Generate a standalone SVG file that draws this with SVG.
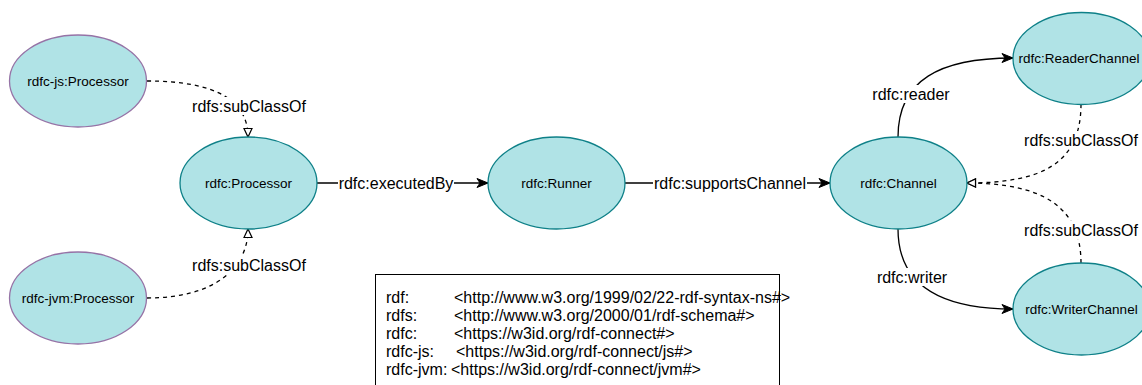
<svg xmlns="http://www.w3.org/2000/svg" width="1142" height="385" viewBox="0 0 1142 385">
<style>
.node{fill:#b0e3e6;stroke:#0e8088;stroke-width:1.3}
.ext{fill:#b0e3e6;stroke:#9673a6;stroke-width:1.3}
.nt{font-family:"Liberation Sans",Arial,sans-serif;font-size:13.5px;fill:#000;text-anchor:middle;dominant-baseline:central}
.et{font-family:"Liberation Sans",Arial,sans-serif;font-size:16px;fill:#000;text-anchor:middle;dominant-baseline:central}
.lg{font-family:"Liberation Sans",Arial,sans-serif;font-size:16px;fill:#000}
.solid{fill:none;stroke:#000;stroke-width:1.3}
.dash{fill:none;stroke:#000;stroke-width:1.3;stroke-dasharray:4 4}
.bg{fill:#fff}
</style>
<defs>
<marker id="arr" markerUnits="userSpaceOnUse" markerWidth="13" markerHeight="11" refX="12" refY="5.5" orient="auto">
<path d="M1,1 L12,5.5 L1,10 L4,5.5 Z" fill="#000" stroke="#000" stroke-width="1"/>
</marker>
<marker id="tri" markerUnits="userSpaceOnUse" markerWidth="12" markerHeight="12" refX="10" refY="6" orient="auto">
<path d="M1.5,2 L10,6 L1.5,10 Z" fill="#fff" stroke="#000" stroke-width="1.2"/>
</marker>
</defs>
<g id="connectors">
<path class="dash" d="M147,81 C215,81 248,100 248,137" marker-end="url(#tri)"/>
<path class="dash" d="M147,298 C215,298 248,268 248,229" marker-end="url(#tri)"/>
<path class="solid" d="M317,183 L488,183" marker-end="url(#arr)"/>
<path class="solid" d="M625,183 L830,183" marker-end="url(#arr)"/>
<path class="solid" d="M898,137 C898,80 940,58 1013,58" marker-end="url(#arr)"/>
<path class="solid" d="M898,229 C898,285 940,309 1013,309" marker-end="url(#arr)"/>
<path class="dash" d="M1081,104 C1081,165 1040,183 967,183" marker-end="url(#tri)"/>
<path class="dash" d="M1081,263 C1081,205 1040,183 967,183" marker-end="url(#tri)"/>
<rect class="bg" x="193" y="97" width="113" height="18"/>
<text class="et" x="249" y="106">rdfs:subClassOf</text>
<rect class="bg" x="193" y="256" width="113" height="18"/>
<text class="et" x="249" y="265">rdfs:subClassOf</text>
<rect class="bg" x="338" y="174" width="116" height="18"/>
<text class="et" x="396" y="183">rdfc:executedBy</text>
<rect class="bg" x="653" y="174" width="154" height="18"/>
<text class="et" x="730" y="183">rdfc:supportsChannel</text>
<rect class="bg" x="872" y="85" width="78" height="18"/>
<text class="et" x="911" y="94">rdfc:reader</text>
<rect class="bg" x="876" y="268" width="72" height="18"/>
<text class="et" x="912" y="277">rdfc:writer</text>
<rect class="bg" x="1025" y="131" width="113" height="18"/>
<text class="et" x="1081" y="140">rdfs:subClassOf</text>
<rect class="bg" x="1025" y="221" width="113" height="18"/>
<text class="et" x="1081" y="230">rdfs:subClassOf</text>
</g>
<g id="js-processor"><ellipse class="ext" cx="78" cy="81" rx="68.5" ry="46"/><text class="nt" x="78" y="81">rdfc-js:Processor</text></g>
<g id="jvm-processor"><ellipse class="ext" cx="78" cy="298" rx="68.5" ry="46"/><text class="nt" x="78" y="298">rdfc-jvm:Processor</text></g>
<g id="processor"><ellipse class="node" cx="248.5" cy="183" rx="68.5" ry="46"/><text class="nt" x="248.5" y="183">rdfc:Processor</text></g>
<g id="runner"><ellipse class="node" cx="556.5" cy="183" rx="68.5" ry="46"/><text class="nt" x="556.5" y="183">rdfc:Runner</text></g>
<g id="channel"><ellipse class="node" cx="898.5" cy="183" rx="68.5" ry="46"/><text class="nt" x="898.5" y="183">rdfc:Channel</text></g>
<g id="reader-channel"><ellipse class="node" cx="1081.5" cy="58.5" rx="68.5" ry="46"/><text class="nt" x="1079" y="58.5">rdfc:ReaderChannel</text></g>
<g id="writer-channel"><ellipse class="node" cx="1081.5" cy="309" rx="68.5" ry="46"/><text class="nt" x="1081.5" y="309">rdfc:WriterChannel</text></g>
<g id="legend">
<rect x="375.5" y="274.5" width="404" height="130" fill="#fff" stroke="#000" stroke-width="1"/>
<text class="lg" x="386" y="303">rdf:</text><text class="lg" x="454" y="303">&lt;http://www.w3.org/1999/02/22-rdf-syntax-ns#&gt;</text>
<text class="lg" x="386" y="321">rdfs:</text><text class="lg" x="454" y="321">&lt;http://www.w3.org/2000/01/rdf-schema#&gt;</text>
<text class="lg" x="386" y="339">rdfc:</text><text class="lg" x="454" y="339">&lt;https://w3id.org/rdf-connect#&gt;</text>
<text class="lg" x="386" y="357">rdfc-js:</text><text class="lg" x="456" y="357">&lt;https://w3id.org/rdf-connect/js#&gt;</text>
<text class="lg" x="386" y="375">rdfc-jvm:</text><text class="lg" x="451" y="375">&lt;https://w3id.org/rdf-connect/jvm#&gt;</text>
</g>
</svg>
